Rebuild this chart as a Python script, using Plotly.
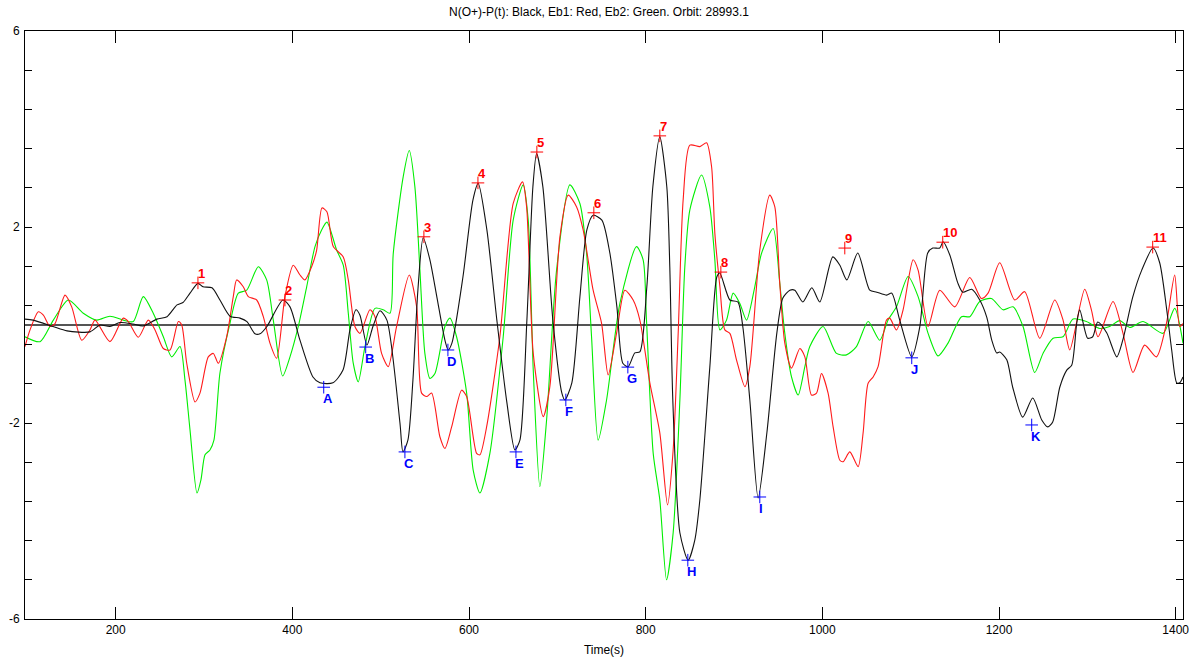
import plotly.graph_objects as go

# ---- data (time in s, value) ----
black_t = [97.3, 106.4, 129.0, 144.9, 170.9, 182.2, 193.5, 204.9, 219.6, 230.9, 246.7, 258.1, 269.4, 276.2,
           284.1, 293.1, 298.8, 309.0, 318.0, 329.4, 340.7, 348.6, 357.7, 363.3, 371.2, 389.3, 397.3, 408.6,
           423.3, 431.2, 445.9, 457.3, 465.2, 472.0, 476.5, 484.4, 491.2, 499.1, 507.0, 521.8, 525.2, 530.8,
           536.5, 542.1, 548.1, 555.7, 563.6, 572.7, 576.4, 580.6, 593.1, 604.4, 610.4, 620.2, 631.5, 642.9,
           651.9, 657.6, 665.5, 672.3, 676.5, 683.6, 694.9, 705.1, 708.5, 716.4, 725.5, 733.4, 740.5, 750.4,
           759.4, 767.4, 774.1, 780.2, 787.7, 793.4, 801.3, 808.1, 816.0, 823.9, 827.3, 830.7, 838.7, 848.1,
           855.6, 861.3, 872.6, 880.5, 883.9, 895.3, 904.3, 910.0, 917.9, 927.3, 937.2, 948.5, 955.3, 963.2,
           968.8, 977.9, 988.1, 997.1, 1011.8, 1019.8, 1027.7, 1040.1, 1053.7, 1061.6, 1072.9, 1078.6, 1087.6,
           1101.2, 1110.3, 1119.3, 1125.0, 1132.9, 1136.7, 1144.3, 1153.3, 1159.0, 1169.1, 1178.2, 1186.1,
           1191.8, 1197.4, 1200.8, 1208.8, 1215.5, 1226.9, 1238.2, 1248.4, 1255.2, 1260.8, 1268.8, 1276.7,
           1282.3, 1288.0, 1291.4, 1300.4, 1306.1, 1311.8, 1321.9, 1333.3, 1340.1, 1351.4, 1361.6, 1374.4,
           1381.9, 1389.9, 1395.5, 1401.2, 1404.6, 1408.3]
black_v = [0.12, 0.10, -0.03, -0.12, -0.14, 0.00, -0.03, 0.05, 0.02, -0.02, 0.12, 0.17, 0.41, 0.46,
           0.65, 0.85, 0.78, 0.76, 0.51, 0.18, 0.14, 0.07, -0.18, -0.18, -0.03, 0.51, 0.37, -0.31,
           -1.06, -1.18, -1.18, -0.92, -0.10, 0.31, 0.20, -0.41, -0.03, 0.29, 0.10, -2.00, -2.59, -2.35,
           -1.12, 0.71, 1.78, 1.33, 0.57, -0.31, -0.51, -0.37, 0.98, 2.55, 2.89, 1.94, 0.10, -1.59,
           -2.55, -2.35, 0.10, 2.82, 3.50, 2.82, 0.10, -1.39, -1.53, -1.18, 0.57, 1.94, 2.24, 2.14,
           1.47, 0.37, -0.78, -0.85, -0.57, -0.55, 0.78, 2.82, 3.84, 2.82, 1.18, -1.53, -4.24, -4.80,
           -4.39, -3.57, -0.86, 0.98, 1.06, 0.51, 0.47, -0.04, -1.53, -3.53, -2.20, -0.16, 0.55, 0.71,
           0.71, 0.47, 0.76, 0.47, 1.39, 1.22, 0.92, 1.47, 0.71, 0.67, 0.61, 0.65, 0.10,
           -0.65, -0.04, 1.47, 1.57, 1.57, 1.70, 1.43, 0.86, 0.67, 0.73, 0.51, 0.16,
           -0.31, -0.57, -0.55, -0.71, -1.27, -1.88, -1.49, -1.94, -2.08, -1.98, -1.27, -0.92,
           -0.82, 0.04, 0.31, -0.27, -0.24, 0.06, -0.16, -0.65, -0.31, 0.57, 1.12, 1.57,
           1.27, 0.31, -0.51, -1.18, -1.18, -1.06]

red_t = [97.3, 103.0, 112.4, 118.1, 125.6, 131.3, 142.6, 150.2, 161.5, 170.9, 176.6, 193.5, 208.6, 214.3,
         225.6, 236.9, 244.5, 253.9, 261.5, 270.9, 274.7, 280.4, 289.8, 295.4, 304.8, 310.5, 316.1, 325.6,
         333.1, 336.9, 344.4, 350.1, 359.6, 367.1, 374.6, 382.2, 391.6, 401.0, 408.6, 414.2, 421.8, 427.5,
         433.5, 439.1, 446.3, 457.6, 463.3, 470.8, 476.5, 487.8, 493.5, 501.0, 508.5, 518.0, 532.3, 540.7,
         546.3, 552.0, 557.6, 567.0, 572.7, 580.3, 591.6, 597.3, 608.6, 612.3, 619.9, 634.9, 650.0, 660.6,
         665.2, 672.7, 684.0, 691.5, 702.9, 712.3, 721.8, 729.2, 740.5, 750.1, 757.5, 767.0, 776.4, 785.8,
         793.4, 804.7, 816.0, 824.7, 831.1, 836.8, 842.4, 850.0, 861.3, 868.9, 874.6, 878.3, 884.0, 889.6,
         895.3, 902.8, 912.3, 917.9, 929.2, 940.5, 946.2, 951.8, 957.5, 965.1, 974.5, 980.2, 987.7, 993.4,
         999.0, 1006.5, 1012.2, 1019.8, 1023.5, 1031.1, 1040.5, 1046.1, 1051.8, 1057.5, 1063.1, 1072.6,
         1076.3, 1083.9, 1091.4, 1102.7, 1108.4, 1119.7, 1132.9, 1149.9, 1166.9, 1180.1, 1187.6, 1200.8,
         1217.8, 1229.1, 1246.1, 1263.1, 1272.5, 1280.1, 1297.0, 1304.6, 1312.1, 1329.1, 1340.4, 1351.7,
         1364.9, 1378.2, 1389.5, 1398.9, 1404.6, 1408.3]
red_v = [-0.44, -0.10, 0.27, 0.20, -0.03, 0.03, 0.61, 0.37, -0.31, -0.10, 0.10, -0.34, 0.14, 0.07,
         -0.25, 0.10, -0.10, -0.48, -0.51, 0.07, 0.00, -0.78, -1.57, -1.39, -0.65, -0.58, -0.78, -0.24,
         0.58, 0.92, 0.78, 0.58, 0.51, 0.17, -0.37, -0.68, 0.58, 1.22, 1.02, 0.92, 1.19, 1.53,
         2.39, 2.31, 1.60, 1.39, 0.92, -0.03, -0.17, 0.31, 0.17, -0.58, -0.85, -0.03, 1.02, 0.37,
         -1.39, -1.46, -1.39, -2.28, -2.52, -2.08, -1.33, -1.46, -2.62, -2.65, -2.08, -0.24, 2.48, 2.92,
         2.41, -0.58, -1.87, -1.26, 1.80, 2.65, 2.41, 1.94, 0.71, 0.03, -1.02, -0.17, 0.71, 0.51,
         0.10, -1.18, -2.20, -3.67, -2.55, -0.16, 2.55, 3.67, 3.64, 3.72, 3.23, 1.87, 0.78, -0.10,
         -0.17, -0.71, -1.26, -0.85, 1.53, 2.65, 2.41, 0.85, -0.37, -0.88, -0.48, -0.65, -1.43, -1.39,
         -0.99, -1.39, -2.08, -2.76, -2.79, -2.59, -2.89, -2.21, -1.19, -1.06, -0.85, 0.10,
         0.14, -0.10, 0.31, 1.33, 1.12, -0.03, 0.71, 0.37, 0.97, 0.54, 0.65, 1.27,
         0.51, 0.68, -0.27, 0.51, 0.10, -0.51, 0.73, 0.31, -0.24, 0.48, -0.17, -0.97,
         -0.41, -0.65, 0.03, 1.02, -0.03, 0.03]

green_t = [97.3, 114.3, 129.4, 146.4, 163.3, 178.5, 193.5, 208.6, 219.9, 231.2, 242.5, 253.9, 263.4, 272.8,
           278.4, 284.1, 292.0, 296.5, 301.1, 306.7, 311.2, 318.0, 329.4, 338.8, 348.3, 361.4, 370.9, 378.4,
           389.0, 397.3, 406.7, 416.2, 425.6, 433.1, 439.1, 450.1, 457.6, 463.3, 468.9, 474.6, 482.2, 493.5,
           502.9, 510.5, 514.2, 525.5, 532.3, 538.7, 544.4, 550.0, 555.7, 561.4, 572.7, 578.4, 585.9, 597.3,
           604.7, 612.3, 623.6, 638.7, 650.0, 661.3, 667.0, 672.7, 680.2, 687.8, 699.1, 714.2, 725.5, 733.1,
           738.7, 746.2, 755.7, 770.8, 789.6, 797.1, 800.9, 808.5, 816.0, 823.6, 831.1, 838.7, 844.3, 850.0,
           863.2, 872.6, 878.3, 884.0, 891.5, 899.0, 906.6, 914.2, 923.5, 931.1, 944.3, 951.8, 957.5, 965.1,
           972.6, 980.2, 985.8, 1000.8, 1016.0, 1027.3, 1038.6, 1051.8, 1065.0, 1074.4, 1083.9, 1097.1,
           1108.4, 1119.7, 1131.0, 1142.3, 1157.5, 1166.9, 1178.2, 1191.4, 1204.6, 1215.9, 1227.2, 1240.4,
           1249.8, 1261.2, 1272.5, 1283.8, 1298.9, 1314.0, 1325.3, 1336.7, 1348.0, 1363.1, 1385.7, 1398.9,
           1408.3]
green_v = [-0.24, -0.34, 0.10, 0.51, 0.24, 0.10, 0.18, 0.10, 0.07, 0.58, 0.24, -0.24, -0.65, -0.44,
           -1.12, -2.14, -3.43, -3.16, -2.65, -2.55, -2.35, -0.98, 0.04, 0.65, 0.71, 1.19, 0.92, 0.10,
           -1.04, -0.65, -0.03, 0.78, 1.60, 1.94, 2.10, 1.53, 1.22, 0.24, -0.78, -1.16, -0.44, 0.34,
           0.31, 0.24, 1.46, 3.03, 3.56, 2.82, 1.12, -0.58, -1.09, -0.99, -0.03, 0.14, -0.24, -1.39,
           -2.96, -3.43, -2.62, -0.24, 2.14, 2.86, 2.14, -0.92, -3.30, -1.94, 1.12, 2.86, 2.48, 1.46,
           -0.24, -2.35, -1.53, 0.44, 1.60, 1.33, 0.10, -2.62, -3.57, -5.20, -4.24, -1.53, 1.19, 2.35,
           3.06, 2.41, 1.33, -0.10, 0.10, 0.65, 0.44, 0.10, 0.78, 1.46, 1.97, 0.85, -0.17, -1.06,
           -1.43, -0.85, -0.44, -0.03, -0.58, -0.61, -0.44, 0.07, -0.31, 0.10, 0.37, 0.99,
           0.58, -0.17, -0.63, -0.37, 0.17, 0.17, 0.48, 0.54, 0.31, 0.37, -0.03, -0.97,
           -0.58, -0.27, -0.24, 0.12, 0.07, -0.07, -0.03, 0.09, -0.05, 0.07, -0.17, 0.34,
           -0.37]

peak_labels = ["1", "2", "3", "4", "5", "6", "7", "8", "9", "10", "11"]
peak_t = [293.1, 391.6, 548.9, 610.1, 676.8, 741.3, 816.0, 885.1, 1025.4, 1136.3, 1374.0]
peak_v = [0.86, 0.51, 1.80, 2.90, 3.53, 2.29, 3.86, 1.08, 1.57, 1.69, 1.59]

trough_labels = ["A", "B", "C", "D", "E", "F", "G", "H", "I", "J", "K"]
trough_t = [435.5, 483.0, 527.4, 576.1, 653.1, 709.6, 779.8, 847.7, 929.2, 1101.2, 1237.0]
trough_v = [-1.27, -0.45, -2.59, -0.51, -2.59, -1.53, -0.86, -4.80, -3.51, -0.67, -2.04]

x_ticks = [200, 400, 600, 800, 1000, 1200, 1400]
y_ticks = [round(-6 + 0.8 * i, 1) for i in range(16)]
y_labeled = {6.0: "6", 2.0: "2", -2.0: "-2", -6.0: "-6"}

title = "N(O+)-P(t): Black, Eb1: Red, Eb2: Green. Orbit: 28993.1"

fig = go.Figure()

line_kw = dict(mode="lines", line_shape="spline", hoverinfo="skip", showlegend=False)
fig.add_trace(go.Scatter(x=green_t, y=green_v, line=dict(color="#00ee00", width=1.1, smoothing=0.7), **line_kw))
fig.add_trace(go.Scatter(x=red_t, y=red_v, line=dict(color="#ff1a1a", width=1.1, smoothing=0.7), **line_kw))
fig.add_trace(go.Scatter(x=black_t, y=black_v, line=dict(color="#111111", width=1.1, smoothing=0.7), **line_kw))

fig.add_trace(go.Scatter(x=peak_t, y=peak_v, mode="markers", showlegend=False, hoverinfo="skip",
                         marker=dict(symbol="cross-thin", size=9, line=dict(color="#ff0000", width=1))))
fig.add_trace(go.Scatter(x=trough_t, y=trough_v, mode="markers", showlegend=False, hoverinfo="skip",
                         marker=dict(symbol="cross-thin", size=9, line=dict(color="#0000ff", width=1))))

for lab, t, v in zip(peak_labels, peak_t, peak_v):
    fig.add_annotation(x=t, y=v, text=f"<b>{lab}</b>", showarrow=False, xanchor="left", yanchor="bottom",
                       xshift=-2, yshift=0, font=dict(family="Arial", size=13, color="#ff0000"))
for lab, t, v in zip(trough_labels, trough_t, trough_v):
    fig.add_annotation(x=t, y=v, text=f"<b>{lab}</b>", showarrow=False, xanchor="left", yanchor="top",
                       xshift=-3, yshift=-2, font=dict(family="Arial", size=13, color="#0000ff"))

fig.update_layout(
    width=1198, height=662,
    margin=dict(l=25, r=15, t=31, b=43, autoexpand=False),
    paper_bgcolor="white", plot_bgcolor="white",
    font=dict(family="Arial", size=12, color="#000000"),
    title=dict(text=title, x=0.5, xanchor="center", y=0.982, yanchor="middle",
               font=dict(family="Arial", size=12, color="#000000")),
)
fig.update_xaxes(range=[97.3, 1408.3], tickvals=x_ticks, ticks="inside", ticklen=12, tickcolor="#000",
                 showline=True, linecolor="#000", linewidth=1, mirror="ticks", showgrid=False, zeroline=False,
                 automargin=False,
                 title=dict(text="Time(s)", standoff=9, font=dict(size=12)), tickfont=dict(size=12))
fig.update_yaxes(range=[-6, 6], tickvals=y_ticks, ticktext=[y_labeled.get(v, "") for v in y_ticks],
                 ticks="inside", ticklen=7, tickcolor="#000", showline=True, linecolor="#000", linewidth=1,
                 mirror="ticks", showgrid=False, zeroline=True, zerolinecolor="#555555", zerolinewidth=1.5,
                 automargin=False, ticklabelstandoff=2, tickfont=dict(size=12))

fig.write_html("out.html", config={"displayModeBar": False},
               post_script="document.body.style.margin='0';document.body.style.padding='0';")
